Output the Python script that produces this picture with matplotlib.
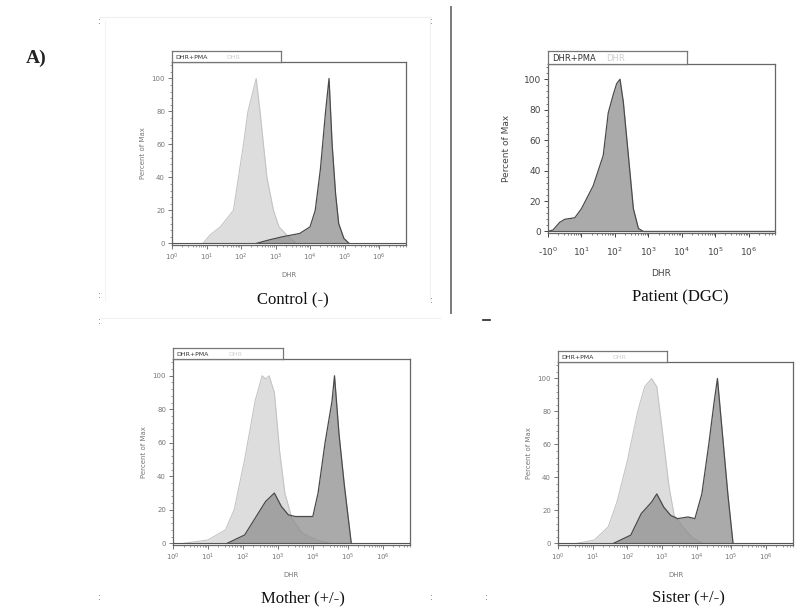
import matplotlib
matplotlib.use("Agg")
import matplotlib.pyplot as plt
import numpy as np
from matplotlib.lines import Line2D
from matplotlib.ticker import FixedLocator, MultipleLocator, NullFormatter

# ---------------- data (log10 DHR, percent of max) ----------------
decades = [0, 1, 2, 3, 4, 5, 6]
yticks = [0, 20, 40, 60, 80, 100]

ctrl_light_x = [0.9, 1.1, 1.4, 1.78, 2.07, 2.2, 2.44, 2.55, 2.75, 2.94, 3.1, 3.33, 3.6]
ctrl_light_y = [0, 5, 10, 20, 60, 80, 100, 80, 40, 20, 10, 5, 0]
ctrl_dark_x = [2.45, 2.8, 3.2, 3.7, 4.0, 4.15, 4.3, 4.45, 4.55, 4.64, 4.74, 4.83, 4.98, 5.13]
ctrl_dark_y = [0, 2, 4, 6, 10, 20, 45, 80, 100, 60, 30, 12, 3, 0]

pat_dark_x = [0.0, 0.15, 0.35, 0.5, 0.8, 1.0, 1.35, 1.65, 1.8, 1.95, 2.05, 2.15, 2.25, 2.4, 2.55, 2.7, 2.85, 6.75]
pat_dark_y = [0, 1, 6, 8, 9, 15, 30, 50, 78, 90, 97, 100, 85, 50, 15, 2, 0, 0]

mom_light_x = [0.3, 1.0, 1.5, 1.75, 2.05, 2.35, 2.55, 2.65, 2.75, 2.9, 3.05, 3.2, 3.4, 3.7, 4.1, 4.5]
mom_light_y = [0, 2, 8, 20, 50, 85, 100, 98, 100, 90, 55, 30, 15, 6, 2, 0]
mom_dark_x = [1.55, 2.05, 2.35, 2.65, 2.9, 3.1, 3.3, 3.5, 3.7, 4.0, 4.15, 4.35, 4.55, 4.62, 4.75, 4.9, 5.1]
mom_dark_y = [0, 5, 15, 25, 30, 22, 17, 16, 16, 16, 30, 60, 85, 100, 65, 35, 0]

sis_light_x = [0.55, 1.05, 1.45, 1.7, 2.0, 2.3, 2.5, 2.7, 2.85, 3.0, 3.2, 3.35, 3.6, 3.9, 4.2]
sis_light_y = [0, 2, 10, 25, 50, 80, 95, 100, 95, 70, 35, 17, 10, 3, 0]
sis_dark_x = [1.6, 2.1, 2.4, 2.7, 2.85, 3.05, 3.25, 3.45, 3.75, 3.95, 4.15, 4.35, 4.5, 4.6, 4.75, 4.9, 5.05]
sis_dark_y = [0, 5, 18, 25, 30, 22, 17, 15, 16, 15, 30, 60, 85, 100, 65, 30, 0]

titles = ["Control (-)", "Patient (DGC)", "Mother (+/-)", "Sister (+/-)"]

# ---------------- figure ----------------
fig = plt.figure(figsize=(8.05, 6.09), dpi=100)
W, H = 805.0, 609.0


def px_axes(x0, y0, x1, y1):
    return fig.add_axes([x0 / W, 1 - y1 / H, (x1 - x0) / W, (y1 - y0) / H])


LIGHT_FILL = "#dadada"
LIGHT_EDGE = "#c4c4c4"
DARK_FILL = "#8e8e8e"
DARK_EDGE = "#4a4a4a"


def panel(box, tab_w, series, title, title_xy, big=False, first_label="10$^{0}$"):
    x0, y0, x1, y1 = box
    ax = px_axes(x0, y0, x1, y1)
    ax.set_xscale("log")
    ax.set_xlim(1.0, 10 ** 6.78)
    ax.set_ylim(-1, 110)
    for kind, xs, ys in series:
        xv = 10 ** np.asarray(xs, float)
        if kind == "light":
            ax.fill_between(xv, 0, ys, color=LIGHT_FILL, alpha=0.9, lw=0, zorder=2)
            ax.plot(xv, ys, color=LIGHT_EDGE, lw=0.8, zorder=3)
        else:
            ax.fill_between(xv, 0, ys, color=DARK_FILL, alpha=0.75, lw=0, zorder=4)
            ax.plot(xv, ys, color=DARK_EDGE, lw=0.9, zorder=5)
    ax.axhline(0, color="#555555", lw=0.8, zorder=6)
    tick_col = "#444444" if big else "#777777"
    fs = 6.5 if big else 5.0
    ax.xaxis.set_major_locator(FixedLocator([10.0 ** d for d in decades]))
    labels = [first_label] + ["10$^{%d}$" % d for d in decades[1:]]
    ax.set_xticklabels(labels)
    ax.xaxis.set_minor_locator(FixedLocator([10.0 ** (d + np.log10(m)) for d in decades for m in range(2, 10)]))
    ax.xaxis.set_minor_formatter(NullFormatter())
    ax.yaxis.set_major_locator(FixedLocator(yticks))
    ax.yaxis.set_minor_locator(MultipleLocator(4))
    ax.tick_params(axis="both", which="major", labelsize=fs, colors=tick_col, length=3, width=0.7, pad=2)
    if big:
        ax.tick_params(axis="x", which="major", pad=6)
    ax.tick_params(axis="both", which="minor", colors=tick_col, length=1.5, width=0.5)
    for s in ax.spines.values():
        s.set_color("#666666")
        s.set_linewidth(0.9)
    ax.set_xlabel("DHR", fontsize=fs, color=tick_col, labelpad=8 if big else 6)
    ax.set_ylabel("Percent of Max", fontsize=fs, color=tick_col, labelpad=9 if big else 4)
    # legend tab above axes
    tab_h = 11 if not big else 13
    tab = fig.add_axes([x0 / W, 1 - y0 / H, tab_w / W, tab_h / H])
    tab.set_xticks([])
    tab.set_yticks([])
    for s in tab.spines.values():
        s.set_color("#777777")
        s.set_linewidth(0.9)
    tab.text(0.03, 0.45, "DHR+PMA", fontsize=fs - 0.5, color="#333333", va="center", ha="left",
             transform=tab.transAxes)
    tab.text(0.5 if not big else 0.42, 0.45, "DHR", fontsize=fs - 0.5, color="#cfcfcf", va="center",
             ha="left", transform=tab.transAxes)
    fig.text(title_xy[0] / W, 1 - title_xy[1] / H, title, fontsize=12, family="Liberation Serif",
             ha="center", va="center", color="#111111")
    return ax


panel((172, 62, 406, 245), 109,
      [("light", ctrl_light_x, ctrl_light_y), ("dark", ctrl_dark_x, ctrl_dark_y)],
      titles[0], (293, 299))
panel((548, 64, 775, 233), 139,
      [("dark", pat_dark_x, pat_dark_y)],
      titles[1], (680, 297), big=True, first_label="-10$^{0}$")
panel((173, 359, 410, 545), 110,
      [("light", mom_light_x, mom_light_y), ("dark", mom_dark_x, mom_dark_y)],
      titles[2], (303, 598))
panel((558, 362, 793, 545), 109,
      [("light", sis_light_x, sis_light_y), ("dark", sis_dark_x, sis_dark_y)],
      titles[3], (688, 598))

# panel label
fig.text(36 / W, 1 - 58 / H, "A)", fontsize=14, family="Liberation Serif", weight="bold",
         ha="center", va="center", color="#222222")

# separators and faint frames
fig.add_artist(Line2D([451 / W, 451 / W], [1 - 7 / H, 1 - 313 / H], color="#7a7a7a", lw=1.4))
fig.add_artist(Line2D([100 / W, 430 / W], [1 - 17 / H, 1 - 17 / H], color="#eeeeee", lw=0.8))
fig.add_artist(Line2D([430 / W, 430 / W], [1 - 17 / H, 1 - 300 / H], color="#f0f0f0", lw=0.8))
fig.add_artist(Line2D([105 / W, 105 / W], [1 - 20 / H, 1 - 300 / H], color="#f3f3f3", lw=0.8))
fig.add_artist(Line2D([101 / W, 440 / W], [1 - 318 / H, 1 - 318 / H], color="#f0f0f0", lw=0.8))
fig.add_artist(Line2D([483 / W, 490 / W], [1 - 320 / H, 1 - 320 / H], color="#222222", lw=1.2))
for (mx, my) in [(99, 22), (431, 22), (99, 295), (431, 300), (99, 322), (431, 598), (99, 598), (486, 598)]:
    fig.text(mx / W, 1 - my / H, ":", fontsize=6, color="#555555", ha="center", va="center")

fig.savefig("out.png", dpi=100, facecolor="white")
